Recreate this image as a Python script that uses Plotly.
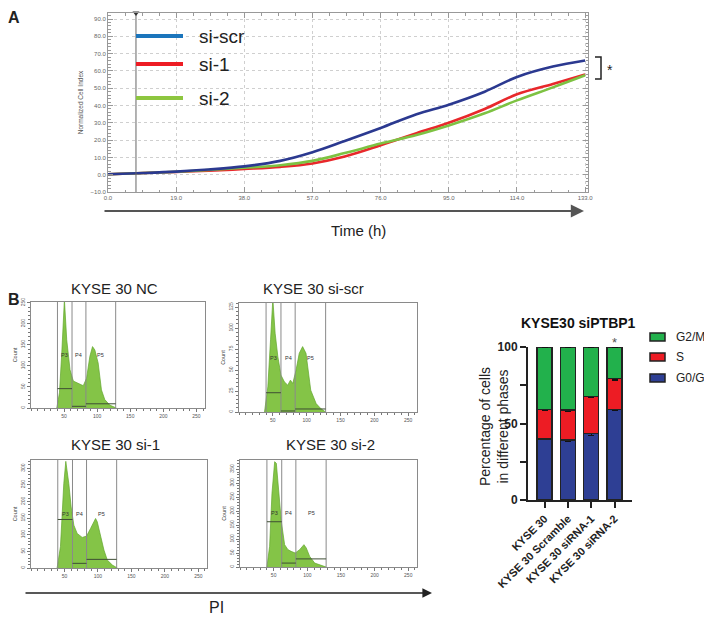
import plotly.graph_objects as go

# ---------------- DATA ----------------
time_h = [0, 10, 19, 28, 38, 48, 57, 66, 76, 86, 95, 105, 114, 124, 133]
si_scr = [0.3, 1.0, 1.8, 3.0, 4.8, 8.0, 13.0, 19.5, 27.0, 35.0, 40.5, 48.0, 56.5, 62.5, 66.0]
si_1 = [0.3, 1.0, 1.6, 2.3, 3.3, 4.5, 6.5, 10.5, 17.0, 24.0, 30.0, 38.0, 46.5, 52.5, 58.0]
si_2 = [0.3, 1.0, 1.7, 2.7, 4.0, 5.5, 8.0, 12.5, 18.0, 23.0, 28.5, 35.5, 43.0, 50.5, 57.5]
marker_time = [7.8]
growth_xticks = [0, 19, 38, 57, 76, 95, 114, 133]
growth_yticks = [-10, 0, 10, 20, 30, 40, 50, 60, 70, 80, 90]

gates = [40, 62, 83, 128]
nc_x = [39, 43, 46.5, 50.5, 54, 59, 64, 71.5, 79, 84, 89, 93, 96.5, 101.5, 106.5, 111.5, 119, 129]
nc_y = [0, 36, 130, 258, 162, 91, 64, 59, 53, 71, 123, 146, 138, 107, 43, 20, 7, 0]
scr_x = [37.7, 42.6, 46.6, 50, 53.4, 57.4, 62, 67, 72, 76, 79.4, 84.3, 89, 94, 99, 102.5, 106, 114, 121, 128]
scr_y = [0, 30, 86, 135, 94, 66, 44, 36, 32, 38, 34, 50, 70, 78, 70, 50, 26, 10, 4, 0]
s1_x = [39, 44, 49, 52, 56.5, 60, 64, 69, 76.5, 83, 89, 96.5, 99, 104, 109, 114, 121.5, 129]
s1_y = [0, 64, 254, 321, 254, 184, 129, 104, 92, 96, 119, 149, 139, 94, 54, 24, 9, 0]
s2_x = [40, 44, 47.5, 51.5, 54, 57.4, 61.4, 66.3, 71.3, 76, 82, 88.6, 95, 98.5, 103.5, 111, 121, 128]
s2_y = [0, 74, 264, 377, 371, 276, 163, 80, 62, 56, 50, 62, 80, 68, 38, 14, 5, 0]
gate_bars = {"nc": [46, 4, 10], "scr": [23, 1.2, 3.6], "s1": [146, 14, 26], "s2": [162, 14, 29]}
gate_label_y = {"nc": 126, "scr": 65, "s1": 161, "s2": 193}
hist_ymax = {"nc": 252, "scr": 130, "s1": 325, "s2": 383}
hist_dtick = {"nc": 50, "scr": 25, "s1": 50, "s2": 50}
hist_titles = {"nc": "KYSE 30 NC", "scr": "KYSE 30 si-scr", "s1": "KYSE 30 si-1", "s2": "KYSE 30 si-2"}
gate_names = ["P3", "P4", "P5"]

bar_cats = ["KYSE 30", "KYSE 30 Scramble", "KYSE 30 siRNA-1", "KYSE 30 siRNA-2"]
g0g1 = [40.0, 39.2, 43.6, 59.3]
s_phase = [19.3, 19.6, 23.9, 20.2]
g2m = [40.7, 41.2, 32.5, 20.5]
g0g1_err = [0.5, 0.8, 1.5, 1.0]
s_err = [0.5, 0.6, 0.6, 1.0]
g2m_err = [0.3, 0.3, 0.3, 0.3]

# ---------------- helpers ----------------
OFF = 8                      # page body margin of the browser
W, H = 712 - OFF, 619 - OFF  # figure size
def X(px): return (px - OFF) / W
def Y(py): return 1 - (py - OFF) / H

FONT = "Liberation Sans, Arial, sans-serif"

def ann(px, py, text, size, color="#222", xanchor="center", **kw):
    return dict(xref="paper", yref="paper", x=X(px), y=Y(py), text=text, showarrow=False,
                xanchor=xanchor, yanchor="middle", font=dict(size=size, color=color, family=FONT), **kw)

fig = go.Figure()

# ---------------- Panel A ----------------
for ys, col in [(si_1, "#e8282b"), (si_2, "#7dc242"), (si_scr, "#2b3990")]:
    fig.add_trace(go.Scatter(x=time_h, y=ys, mode="lines", line=dict(color=col, width=2.6, shape="spline"),
                             xaxis="x", yaxis="y", showlegend=False, hoverinfo="skip"))
fig.add_trace(go.Scatter(x=marker_time * 2, y=[-10, 93.5], mode="lines", line=dict(color="#666", width=1),
                         xaxis="x", yaxis="y", showlegend=False))
fig.add_trace(go.Scatter(x=marker_time, y=[93.5], mode="markers", marker=dict(symbol="triangle-down", size=6, color="#333"),
                         xaxis="x", yaxis="y", showlegend=False, cliponaxis=False))

# ---------------- Panel B histograms ----------------
hist = {"nc": (nc_x, nc_y, "2"), "scr": (scr_x, scr_y, "3"), "s1": (s1_x, s1_y, "4"), "s2": (s2_x, s2_y, "5")}
shapes = []
annotations = []
for key, (hx, hy, n) in hist.items():
    fig.add_trace(go.Scatter(x=hx, y=hy, mode="lines", fill="tozeroy", fillcolor="#84c447",
                             line=dict(color="#62a62c", width=0.7), xaxis="x" + n, yaxis="y" + n,
                             showlegend=False, hoverinfo="skip"))
    for g in gates:
        shapes.append(dict(type="line", xref="x" + n, yref="y" + n + " domain", x0=g, x1=g, y0=0, y1=1,
                           line=dict(color="#8a8a8a", width=1)))
    for k in range(3):
        h = gate_bars[key][k]
        shapes.append(dict(type="line", xref="x" + n, yref="y" + n, x0=gates[k], x1=gates[k + 1], y0=h, y1=h,
                           line=dict(color="#3e4e34", width=1)))
        annotations.append(dict(xref="x" + n, yref="y" + n, x=(gates[k] + gates[k + 1]) / 2, y=gate_label_y[key],
                                text=gate_names[k], showarrow=False, xanchor="center", yanchor="middle",
                                font=dict(size=5.5, color="#333", family=FONT)))

# ---------------- Panel B bars ----------------
for vals, err, col, name in [(g0g1, g0g1_err, "#2e3f94", "G0/G1"), (s_phase, s_err, "#ed1c24", "S"), (g2m, g2m_err, "#22b14c", "G2/M")]:
    fig.add_trace(go.Bar(x=bar_cats, y=vals, name=name, marker=dict(color=col, line=dict(color="#222", width=1.5)),
                         error_y=dict(type="data", array=err, color="#111", thickness=1.3, width=3),
                         width=0.64, xaxis="x6", yaxis="y6", showlegend=False, cliponaxis=False))

# ---------------- axes ----------------
growth_ax = dict(showline=True, linecolor="#999", linewidth=1, mirror="ticks", ticks="inside", ticklen=5,
                 tickcolor="#999", showgrid=True, gridcolor="#cfcfcf", griddash="dot", gridwidth=1,
                 tickfont=dict(size=6, color="#666", family=FONT), zeroline=False, tickformat=".1f",
                 automargin=False)
layout_axes = dict(
    xaxis=dict(growth_ax, domain=[X(108), X(588)], range=[0, 133.8], tickvals=growth_xticks, anchor="y",
               minor=dict(ticks="inside", ticklen=2.5, dtick=4.75, tick0=0, tickcolor="#999")),
    yaxis=dict(growth_ax, domain=[Y(192), Y(13)], range=[-10, 93.5], tickvals=growth_yticks, anchor="x",
               minor=dict(ticks="inside", ticklen=2.5, dtick=2, tick0=0, tickcolor="#999"),
               title=dict(text="Normalized Cell Index", font=dict(size=6.5, color="#555", family=FONT), standoff=6)),
)
boxes = {"nc": (31, 205, 302, 408), "scr": (239, 417, 303, 412), "s1": (31, 207, 460, 568), "s2": (240, 417, 460, 567)}
title_pos = {"nc": (114, 288), "scr": (313, 288), "s1": (115, 444), "s2": (330, 444)}
for key, (hx, hy, n) in hist.items():
    l, r, t, b = boxes[key]
    layout_axes["xaxis" + n] = dict(domain=[X(l), X(r)], range=[0, 263], anchor="y" + n, showline=True, mirror=True,
                                    linecolor="#8a8a8a", linewidth=1, ticks="outside", ticklen=3, tickcolor="#777",
                                    tickvals=[50, 100, 150, 200, 250], showgrid=False, zeroline=False, automargin=False,
                                    minor=dict(ticks="outside", ticklen=2, dtick=10, tick0=0, tickcolor="#777"),
                                    tickfont=dict(size=5, color="#555", family=FONT))
    layout_axes["yaxis" + n] = dict(domain=[Y(b), Y(t)], range=[0, hist_ymax[key]], anchor="x" + n, showline=True,
                                    mirror=True, linecolor="#8a8a8a", linewidth=1, ticks="outside", ticklen=3,
                                    tickcolor="#777", dtick=hist_dtick[key], tick0=0, showgrid=False, zeroline=False,
                                    tickangle=-90, tickfont=dict(size=5, color="#555", family=FONT), automargin=False,
                                    minor=dict(ticks="outside", ticklen=2, dtick=hist_dtick[key] / 5, tick0=0, tickcolor="#777"),
                                    title=dict(text="Count", font=dict(size=5.5, color="#444", family=FONT), standoff=2))
    tx, ty = title_pos[key]
    annotations.append(ann(tx, ty, hist_titles[key], 15))

layout_axes["xaxis6"] = dict(domain=[X(528), X(632)], range=[-0.71, 3.75], anchor="y6", showline=True, linecolor="#222",
                             linewidth=2, ticks="outside", ticklen=6, tickwidth=2, tickcolor="#222", tickangle=-45,
                             tickfont=dict(size=11, color="#222", family=FONT, weight="bold"), showgrid=False,
                             automargin=False)
layout_axes["yaxis6"] = dict(domain=[Y(500), Y(347)], range=[0, 100], anchor="x6", showline=True, linecolor="#222",
                             linewidth=2, ticks="outside", ticklen=6, tickwidth=2, tickcolor="#222",
                             tickvals=[0, 50, 100], showgrid=False, zeroline=False, automargin=False,
                             minor=dict(ticks="outside", ticklen=6, tickwidth=2, dtick=25, tick0=0, tickcolor="#222"),
                             tickfont=dict(size=12, color="#222", family=FONT, weight="bold"))

# ---------------- decorations ----------------
# legend panel A
for py, col, txt in [(36, "#1b75bc", "si-scr"), (64, "#ed1c24", "si-1"), (98, "#8dc63f", "si-2")]:
    shapes.append(dict(type="line", xref="paper", yref="paper", x0=X(136), x1=X(183), y0=Y(py), y1=Y(py),
                       line=dict(color=col, width=4)))
    annotations.append(ann(197, py, txt, 19, xanchor="left"))
# bracket + star
shapes.append(dict(type="path", xref="paper", yref="paper",
                   path=f"M {X(595)} {Y(57)} L {X(601)} {Y(57)} L {X(601)} {Y(79)} L {X(595)} {Y(79)}",
                   line=dict(color="#222", width=1.5)))
annotations.append(ann(610, 70, "*", 14))
# time arrow
annotations.append(dict(xref="paper", yref="paper", x=X(584), y=Y(211), ax=-481, ay=0, axref="pixel", ayref="pixel",
                        text="", showarrow=True, arrowhead=2, arrowsize=1.2, arrowwidth=2.2, arrowcolor="#555"))
annotations.append(ann(358, 230, "Time (h)", 15))
# PI arrow
annotations.append(dict(xref="paper", yref="paper", x=X(432), y=Y(593), ax=-408, ay=0, axref="pixel", ayref="pixel",
                        text="", showarrow=True, arrowhead=2, arrowsize=1.2, arrowwidth=1.6, arrowcolor="#222"))
annotations.append(ann(216, 607, "PI", 16))
# panel letters
annotations.append(ann(14, 17, "<b>A</b>", 16))
annotations.append(ann(14, 299, "<b>B</b>", 16))
# bar chart title, y title, legend, star
annotations.append(ann(578, 323, "<b>KYSE30 siPTBP1</b>", 14, color="#111"))
annotations.append(ann(494, 427, "Percentage of cells<br>in different phases", 14, color="#222", textangle=-90))
for py, col, txt in [(337, "#22b14c", "G2/M"), (357, "#ed1c24", "S"), (378, "#2e3f94", "G0/G1")]:
    shapes.append(dict(type="rect", xref="paper", yref="paper", x0=X(650), x1=X(665), y0=Y(py + 4), y1=Y(py - 4),
                       fillcolor=col, line=dict(color="#222", width=1.5)))
    annotations.append(ann(674, py, txt, 12, color="#222", xanchor="left"))
annotations.append(dict(xref="x6", yref="paper", x=bar_cats[3], y=Y(342), text="*", showarrow=False,
                        xanchor="center", yanchor="middle", font=dict(size=13, color="#555", family=FONT)))

fig.update_layout(width=W, height=H, margin=dict(l=0, r=0, t=0, b=0, autoexpand=False), paper_bgcolor="white",
                  plot_bgcolor="white", barmode="stack", shapes=shapes, annotations=annotations, showlegend=False,
                  font=dict(family=FONT), **layout_axes)
fig.write_html("out.html")
